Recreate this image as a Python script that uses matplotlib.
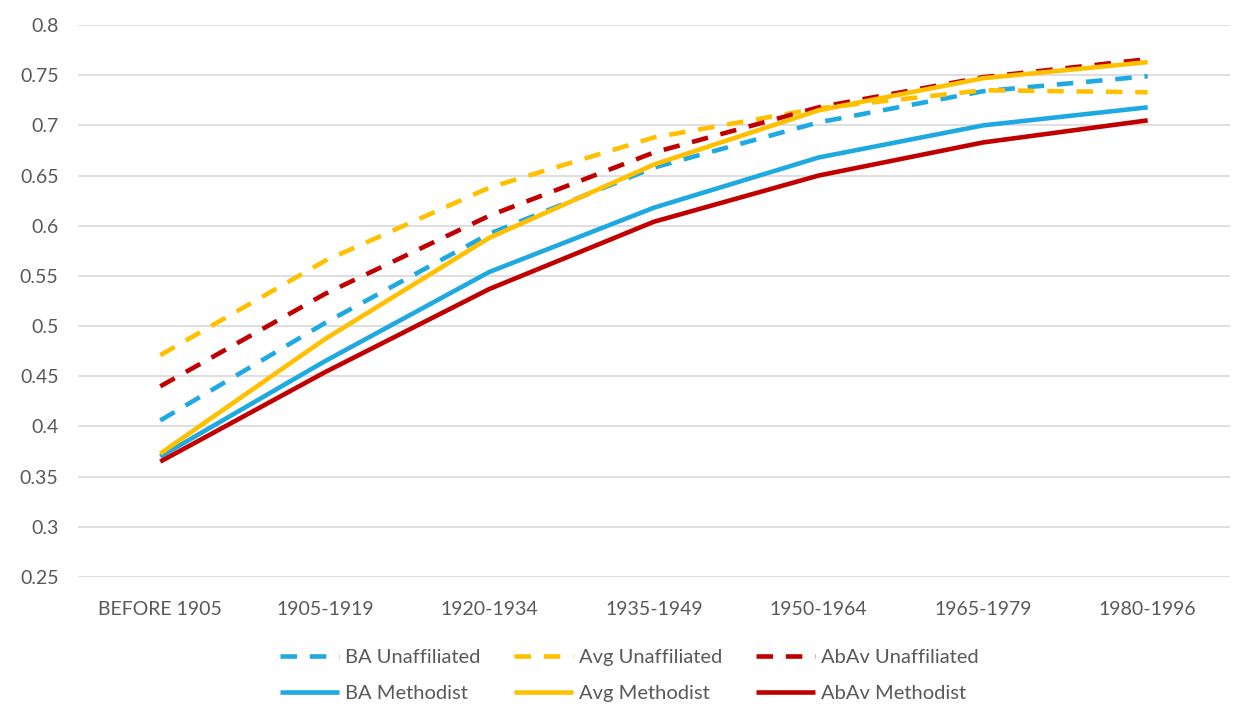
import matplotlib.pyplot as plt

plt.rcParams['font.family'] = ['Lato', 'DejaVu Sans']

periods = ['BEFORE 1905', '1905-1919', '1920-1934', '1935-1949',
           '1950-1964', '1965-1979', '1980-1996']

ba_unaffiliated = [0.406, 0.503, 0.592, 0.658, 0.703, 0.734, 0.749]
avg_unaffiliated = [0.471, 0.565, 0.638, 0.688, 0.717, 0.735, 0.733]
abav_unaffiliated = [0.440, 0.532, 0.610, 0.673, 0.718, 0.748, 0.766]
ba_methodist = [0.370, 0.465, 0.554, 0.618, 0.668, 0.700, 0.718]
avg_methodist = [0.373, 0.487, 0.588, 0.661, 0.715, 0.747, 0.763]
abav_methodist = [0.365, 0.454, 0.537, 0.604, 0.650, 0.683, 0.705]

blue = '#1FA9E1'
gold = '#FFC000'
red = '#C00000'
text_grey = '#595959'

fig = plt.figure(figsize=(12.44, 7.15), dpi=100)
ax = fig.add_axes([0.0627, 0.193, 0.926, 0.772])

x = range(len(periods))
lw = 3.3
dash = (0, (3.6, 2.8))

series = [
    ('BA Unaffiliated', ba_unaffiliated, blue, dash),
    ('BA Methodist', ba_methodist, blue, '-'),
    ('Avg Unaffiliated', avg_unaffiliated, gold, dash),
    ('Avg Methodist', avg_methodist, gold, '-'),
    ('AbAv Unaffiliated', abav_unaffiliated, red, dash),
    ('AbAv Methodist', abav_methodist, red, '-'),
]
# draw the dashed series first so the solid ones sit on top
zorders = {'-': 4}
for label, vals, col, ls in series:
    ax.plot(x, vals, color=col, linestyle=ls, linewidth=lw, label=label,
            zorder=zorders.get(ls, 3), solid_capstyle='butt',
            dash_capstyle='butt')

ax.set_xlim(-0.5, len(periods) - 0.5)
ax.set_ylim(0.25, 0.8)
ax.set_yticks([0.25 + 0.05 * i for i in range(12)])
ax.set_yticklabels(['0.25', '0.3', '0.35', '0.4', '0.45', '0.5', '0.55',
                    '0.6', '0.65', '0.7', '0.75', '0.8'])
ax.set_xticks(list(x))
ax.set_xticklabels(periods)
ax.tick_params(axis='both', length=0, labelsize=14, labelcolor=text_grey)
ax.tick_params(axis='y', pad=14)
ax.tick_params(axis='x', pad=17)
ax.grid(axis='y', color='#D9D9D9', linewidth=1.2)
ax.set_axisbelow(True)
for s in ax.spines.values():
    s.set_visible(False)

fig.legend(loc='upper center', bbox_to_anchor=(0.506, 0.118), ncol=3,
           frameon=False, fontsize=14.5, labelcolor=text_grey,
           handlelength=2.9, handletextpad=0.3, columnspacing=1.7,
           labelspacing=0.95)

fig.savefig('out.png', dpi=100, facecolor='white')
